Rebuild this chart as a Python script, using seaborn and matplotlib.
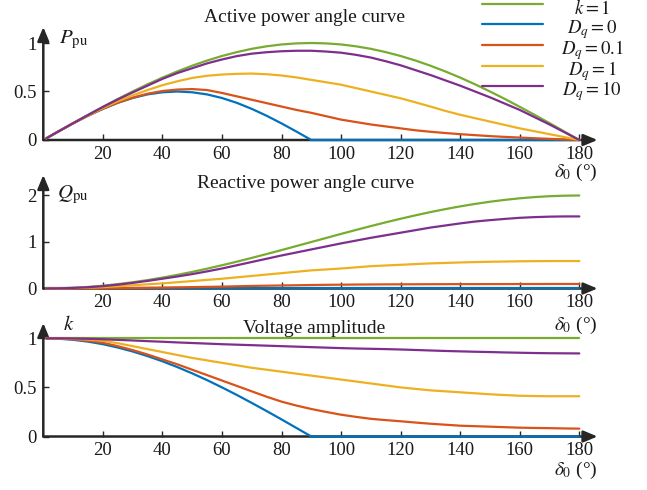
import numpy as np
import pandas as pd
import matplotlib
matplotlib.use("Agg")
import matplotlib.pyplot as plt
import seaborn as sns
from matplotlib.lines import Line2D

# ---------------- data ----------------
delta = [1, 5, 10, 15, 20, 25, 30, 35, 40, 45, 50, 55, 60, 65, 70, 75, 80, 85, 90,
         95, 100, 105, 110, 115, 120, 125, 130, 135, 140, 145, 150, 155, 160, 165, 170, 175, 180]
series_labels = ["$k = 1$", "$D_q = 0$", "$D_q = 0.1$", "$D_q = 1$", "$D_q = 10$"]
colors = ["#77AC30", "#0072BD", "#D95319", "#EDB120", "#7E2F8E"]

p_k1 = [0.017, 0.087, 0.174, 0.259, 0.342, 0.423, 0.5, 0.574, 0.643, 0.707, 0.766, 0.819, 0.866,
        0.906, 0.940, 0.966, 0.985, 0.996, 1.0, 0.996, 0.985, 0.966, 0.940, 0.906, 0.866, 0.819,
        0.766, 0.707, 0.643, 0.574, 0.5, 0.423, 0.342, 0.259, 0.174, 0.087, 0.0]
p_dq0 = [0.017, 0.087, 0.171, 0.25, 0.321, 0.383, 0.433, 0.47, 0.492, 0.5, 0.492, 0.47, 0.433,
         0.383, 0.321, 0.25, 0.171, 0.087, 0.0, 0.0, 0.0, 0.0, 0.0, 0.0, 0.0, 0.0, 0.0, 0.0,
         0.0, 0.0, 0.0, 0.0, 0.0, 0.0, 0.0, 0.0, 0.0]
p_dq01 = [0.017, 0.087, 0.171, 0.25, 0.322, 0.385, 0.437, 0.477, 0.505, 0.52, 0.525, 0.515, 0.485,
          0.45, 0.415, 0.38, 0.345, 0.31, 0.28, 0.245, 0.21, 0.185, 0.16, 0.14, 0.12, 0.10, 0.085,
          0.072, 0.06, 0.05, 0.04, 0.032, 0.025, 0.018, 0.012, 0.006, 0.0]
p_dq1 = [0.017, 0.087, 0.172, 0.253, 0.33, 0.40, 0.46, 0.515, 0.565, 0.605, 0.64, 0.662, 0.675,
         0.682, 0.685, 0.678, 0.665, 0.645, 0.62, 0.595, 0.57, 0.535, 0.50, 0.465, 0.43, 0.388,
         0.345, 0.30, 0.26, 0.225, 0.19, 0.155, 0.12, 0.09, 0.06, 0.03, 0.0]
p_dq10 = [0.017, 0.087, 0.173, 0.257, 0.34, 0.418, 0.49, 0.56, 0.63, 0.69, 0.74, 0.79, 0.83,
          0.865, 0.89, 0.905, 0.915, 0.92, 0.92, 0.912, 0.90, 0.878, 0.85, 0.812, 0.77, 0.72,
          0.67, 0.615, 0.56, 0.50, 0.44, 0.375, 0.31, 0.235, 0.16, 0.08, 0.0]

q_k1 = [0.0, 0.004, 0.015, 0.034, 0.06, 0.094, 0.134, 0.181, 0.234, 0.293, 0.357, 0.426, 0.5,
        0.577, 0.658, 0.741, 0.826, 0.913, 1.0, 1.087, 1.174, 1.259, 1.342, 1.423, 1.5, 1.574,
        1.643, 1.707, 1.766, 1.819, 1.866, 1.906, 1.94, 1.966, 1.985, 1.996, 2.0]
q_dq0 = [0.0] * 37
q_dq01 = [0.0, 0.0, 0.001, 0.003, 0.005, 0.008, 0.012, 0.016, 0.02, 0.025, 0.03, 0.035, 0.04,
          0.048, 0.055, 0.06, 0.065, 0.07, 0.075, 0.079, 0.082, 0.085, 0.087, 0.089, 0.09, 0.091,
          0.092, 0.093, 0.094, 0.094, 0.095, 0.095, 0.096, 0.096, 0.097, 0.097, 0.097]
q_dq1 = [0.0, 0.002, 0.01, 0.018, 0.03, 0.048, 0.07, 0.09, 0.11, 0.135, 0.16, 0.185, 0.21,
         0.24, 0.27, 0.30, 0.33, 0.36, 0.39, 0.41, 0.43, 0.455, 0.48, 0.495, 0.51, 0.525, 0.54,
         0.55, 0.56, 0.568, 0.575, 0.58, 0.585, 0.588, 0.59, 0.59, 0.59]
q_dq10 = [0.0, 0.003, 0.012, 0.027, 0.05, 0.082, 0.12, 0.163, 0.21, 0.258, 0.31, 0.368, 0.43,
          0.5, 0.57, 0.64, 0.71, 0.775, 0.84, 0.905, 0.97, 1.03, 1.09, 1.145, 1.2, 1.255, 1.31,
          1.355, 1.40, 1.44, 1.47, 1.497, 1.52, 1.535, 1.545, 1.55, 1.55]

k_k1 = [1.0] * 37
k_dq0 = [1.0, 0.996, 0.985, 0.966, 0.94, 0.906, 0.866, 0.819, 0.766, 0.707, 0.643, 0.574, 0.5,
         0.423, 0.342, 0.259, 0.174, 0.087, 0.0, 0.0, 0.0, 0.0, 0.0, 0.0, 0.0, 0.0, 0.0, 0.0,
         0.0, 0.0, 0.0, 0.0, 0.0, 0.0, 0.0, 0.0, 0.0]
k_dq01 = [1.0, 0.997, 0.99, 0.975, 0.955, 0.92, 0.88, 0.835, 0.785, 0.735, 0.68, 0.625, 0.57,
          0.515, 0.46, 0.405, 0.355, 0.315, 0.28, 0.25, 0.222, 0.2, 0.18, 0.167, 0.155, 0.142,
          0.13, 0.12, 0.11, 0.105, 0.1, 0.095, 0.09, 0.087, 0.085, 0.082, 0.08]
k_dq1 = [1.0, 0.999, 0.995, 0.987, 0.975, 0.95, 0.92, 0.89, 0.86, 0.83, 0.80, 0.775, 0.75,
         0.725, 0.70, 0.68, 0.66, 0.64, 0.62, 0.60, 0.58, 0.56, 0.54, 0.52, 0.50, 0.485, 0.47,
         0.46, 0.45, 0.44, 0.43, 0.422, 0.415, 0.412, 0.41, 0.41, 0.41]
k_dq10 = [1.0, 1.0, 0.998, 0.995, 0.99, 0.984, 0.978, 0.971, 0.965, 0.958, 0.952, 0.946, 0.94,
          0.935, 0.93, 0.925, 0.92, 0.915, 0.91, 0.905, 0.90, 0.896, 0.893, 0.89, 0.886, 0.881,
          0.876, 0.871, 0.867, 0.863, 0.86, 0.856, 0.853, 0.85, 0.848, 0.847, 0.846]

x_ticks = [20, 40, 60, 80, 100, 120, 140, 160, 180]
p_ticks, p_ticklabels = [0, 0.5, 1], ["0", "0.5", "1"]
q_ticks, q_ticklabels = [0, 1, 2], ["0", "1", "2"]
k_ticks, k_ticklabels = [0, 0.5, 1], ["0", "0.5", "1"]

titles = ["Active power angle curve", "Reactive power angle curve", "Voltage amplitude"]
ylabels = [r"$P_{\mathrm{pu}}$", r"$Q_{\mathrm{pu}}$", r"$k$"]
xlabel = r"$\delta_0$ (°)"

# ---------------- style ----------------
sns.set_theme(style="white")
plt.rcParams["font.family"] = ["Liberation Serif", "DejaVu Serif"]
plt.rcParams["mathtext.fontset"] = "stix"
AX = "#262626"

W_PX, H_PX = 647, 490
fig = plt.figure(figsize=(W_PX / 100, H_PX / 100), dpi=100)


def long_df(cols):
    rows = []
    for lab, vals in zip(series_labels, cols):
        for d, v in zip(delta, vals):
            rows.append({"delta": d, "value": v, "series": lab})
    return pd.DataFrame(rows)


panels = [
    ([p_k1, p_dq0, p_dq01, p_dq1, p_dq10], 140.0, 27.0, 1.0, 43.0, p_ticks, p_ticklabels),
    ([q_k1, q_dq0, q_dq01, q_dq1, q_dq10], 288.5, 175.0, 2.0, 195.5, q_ticks, q_ticklabels),
    ([k_k1, k_dq0, k_dq01, k_dq1, k_dq10], 436.5, 323.0, 1.0, 338.3, k_ticks, k_ticklabels),
]

x0_px, x180_px, xr_px = 43.3, 579.3, 597.5
xmax = (xr_px - x0_px) / ((x180_px - x0_px) / 180)

title_pos = [(305, 18), (306, 183), (314, 328)]
ylab_pos = [(59, 40), (57, 195), (63, 325)]
xlab_y = [172, 325, 470]

for i, (cols, y0px, ytop_px, yref, yref_px, yt, ytl) in enumerate(panels):
    bottom = 1 - y0px / H_PX
    height = (y0px - ytop_px) / H_PX
    ax = fig.add_axes([x0_px / W_PX, bottom, (xr_px - x0_px) / W_PX, height])
    df = long_df(cols)
    sns.lineplot(data=df, x="delta", y="value", hue="series", hue_order=series_labels,
                 palette=colors, ax=ax, legend=False, linewidth=1.6, estimator=None,
                 sort=False, zorder=3)
    for ln in ax.lines:
        ln.set_clip_on(False)
    ppu = (y0px - yref_px) / yref
    ax.set_xlim(0, xmax)
    ax.set_ylim(0, (y0px - ytop_px) / ppu)
    for s in ax.spines.values():
        s.set_visible(False)
    ax.set_xticks(x_ticks)
    ax.set_xticklabels([str(t) for t in x_ticks])
    ax.set_yticks(yt)
    ax.set_yticklabels(ytl)
    ax.set_xlabel("")
    ax.set_ylabel("")
    ax.tick_params(axis="both", direction="in", length=4.5, width=1.0, color=AX,
                   labelsize=13.5, labelcolor="#1a1a1a")
    ax.tick_params(axis="x", pad=4, bottom=True)
    ax.tick_params(axis="y", pad=5, left=True)
    # axis arrows
    arrow = dict(arrowstyle="-|>,head_length=0.6,head_width=0.25", lw=1.8, color=AX,
                 mutation_scale=14, shrinkA=0, shrinkB=0)
    ax.annotate("", xy=(1, 0), xytext=(0, 0), xycoords="axes fraction",
                arrowprops=arrow, annotation_clip=False, zorder=2)
    ax.annotate("", xy=(0, 1), xytext=(0, 0), xycoords="axes fraction",
                arrowprops=arrow, annotation_clip=False, zorder=2)

    tx, ty = title_pos[i]
    fig.text(tx / W_PX, 1 - ty / H_PX, titles[i], ha="center", va="center",
             fontsize=14, color="#1a1a1a")
    lx, ly = ylab_pos[i]
    fig.text(lx / W_PX, 1 - ly / H_PX, ylabels[i], ha="left", va="center",
             fontsize=15, color="#1a1a1a")
    fig.text(576 / W_PX, 1 - xlab_y[i] / H_PX, xlabel, ha="center", va="center",
             fontsize=14, color="#1a1a1a")

# legend (top right, centred labels)
leg_y = [4, 24.3, 44.7, 65.7, 86]
for lab, c, y in zip(series_labels, colors, leg_y):
    fig.add_artist(Line2D([482 / W_PX, 543 / W_PX], [1 - y / H_PX, 1 - y / H_PX],
                          color=c, lw=1.6, transform=fig.transFigure, zorder=5))
    fig.text(592 / W_PX, 1 - (y + 9.5) / H_PX, lab, ha="center", va="baseline",
             fontsize=13.5, color="#1a1a1a")

fig.savefig("out.png", dpi=100)
